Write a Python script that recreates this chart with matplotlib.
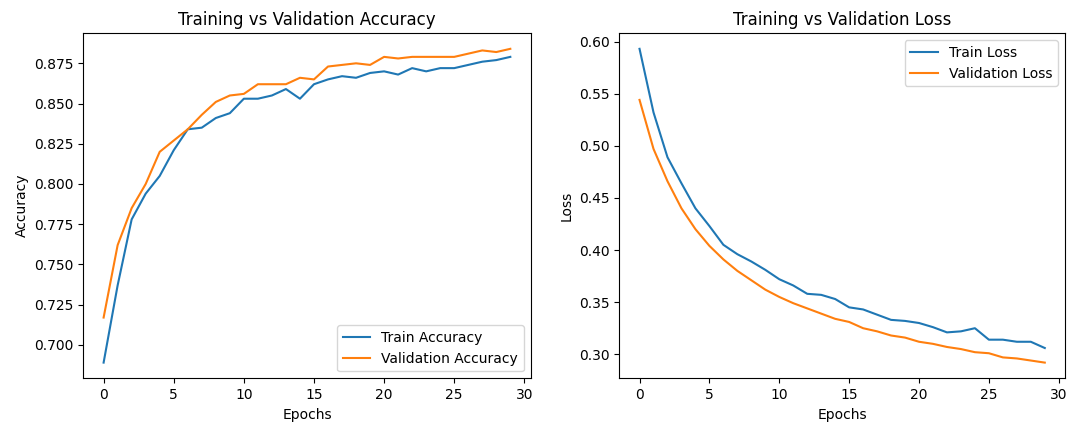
import matplotlib
matplotlib.use("Agg")
import matplotlib.pyplot as plt

# per-epoch history values
epochs = list(range(30))

train_acc = [0.689, 0.737, 0.778, 0.794, 0.805, 0.821, 0.834, 0.835, 0.841, 0.844,
             0.853, 0.853, 0.855, 0.859, 0.853, 0.862, 0.865, 0.867, 0.866, 0.869,
             0.870, 0.868, 0.872, 0.870, 0.872, 0.872, 0.874, 0.876, 0.877, 0.879]
val_acc = [0.717, 0.762, 0.785, 0.800, 0.820, 0.827, 0.834, 0.843, 0.851, 0.855,
           0.856, 0.862, 0.862, 0.862, 0.866, 0.865, 0.873, 0.874, 0.875, 0.874,
           0.879, 0.878, 0.879, 0.879, 0.879, 0.879, 0.881, 0.883, 0.882, 0.884]

train_loss = [0.593, 0.532, 0.489, 0.464, 0.440, 0.423, 0.405, 0.396, 0.389, 0.381,
              0.372, 0.366, 0.358, 0.357, 0.353, 0.345, 0.343, 0.338, 0.333, 0.332,
              0.330, 0.326, 0.321, 0.322, 0.325, 0.314, 0.314, 0.312, 0.312, 0.306]
val_loss = [0.544, 0.497, 0.466, 0.440, 0.420, 0.404, 0.391, 0.380, 0.371, 0.362,
            0.355, 0.349, 0.344, 0.339, 0.334, 0.331, 0.325, 0.322, 0.318, 0.316,
            0.312, 0.310, 0.307, 0.305, 0.302, 0.301, 0.297, 0.296, 0.294, 0.292]

fig = plt.figure(figsize=(10.69, 4.32), dpi=100)
ax1 = fig.add_axes([0.0779, 0.1243, 0.4185, 0.799])
ax2 = fig.add_axes([0.5793, 0.1243, 0.417, 0.799])

ax1.plot(epochs, train_acc, label="Train Accuracy")
ax1.plot(epochs, val_acc, label="Validation Accuracy")
ax1.set_title("Training vs Validation Accuracy")
ax1.set_xlabel("Epochs")
ax1.set_ylabel("Accuracy")
ax1.legend(loc="lower right")

ax2.plot(epochs, train_loss, label="Train Loss")
ax2.plot(epochs, val_loss, label="Validation Loss")
ax2.set_title("Training vs Validation Loss")
ax2.set_xlabel("Epochs")
ax2.set_ylabel("Loss")
ax2.legend(loc="upper right")

fig.savefig("out.png", dpi=100)
